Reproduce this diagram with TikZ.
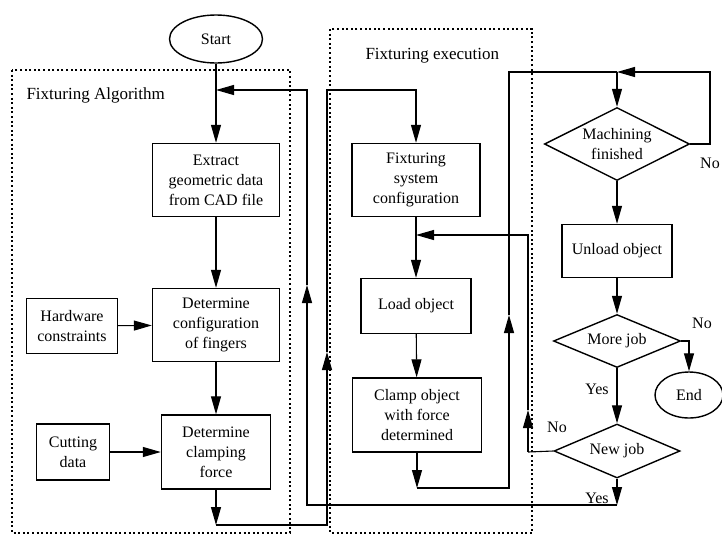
\documentclass[tikz,border=0pt]{standalone}
\usepackage{fontspec}
\setmainfont{Liberation Serif}
\usepackage{tikz}
\usetikzlibrary{arrows.meta,positioning,shapes.geometric,calc}

\begin{document}
\begin{tikzpicture}[x=1pt, y=-1pt,
    every node/.style={font=\fontsize{16}{20}\selectfont},
    box/.style={draw, line width=1.4pt, align=center, inner sep=2pt},
    decision/.style={draw, diamond, line width=1.4pt, align=center, aspect=2, inner sep=0pt},
    terminal/.style={draw, ellipse, line width=1.4pt, inner sep=0pt},
    group/.style={line width=2.2pt, dash pattern=on 2pt off 2.6pt},
    arr/.style={line width=1.1pt, -{Triangle[length=18pt, width=10pt]}},
    ln/.style={line width=1.1pt}]
    \useasboundingbox (0,0) rectangle (722,536);
    \draw[group] (12,70) rectangle (290,533);
    \draw[group] (330,29) rectangle (532,533);
    \node (algo) [anchor=west, font=\fontsize{17}{20}\selectfont] at (23,95) {Fixturing Algorithm};
    \node (exec) [anchor=west, font=\fontsize{17}{20}\selectfont] at (362,56) {Fixturing execution};
    \node (start) [terminal, minimum width=93, minimum height=48] at (216,39) {Start};
    \node (extract) [box, minimum width=127, minimum height=73] at (216,180) {Extract\\geometric data\\from CAD file};
    \node (config) [box, minimum width=127, minimum height=73] at (216,325) {Determine\\configuration\\of fingers};
    \node (hw) [box, minimum width=91, minimum height=55] at (72,326) {Hardware\\constraints};
    \node (clampf) [box, minimum width=109, minimum height=74] at (216,452) {Determine\\clamping\\force};
    \node (cut) [box, minimum width=73, minimum height=56] at (73,452) {Cutting\\data};
    \node (fixsys) [box, minimum width=128, minimum height=73] at (416,180) {Fixturing\\system\\configuration};
    \node (load) [box, minimum width=110, minimum height=55] at (416,306) {Load object};
    \node (clampo) [box, minimum width=129, minimum height=74] at (417,415) {Clamp object\\with force\\determined};
    \node (mach) [decision, minimum width=145, minimum height=73] at (617,144) {Machining\\finished};
    \node (unload) [box, minimum width=110, minimum height=53] at (617,251) {Unload object};
    \node (more) [decision, minimum width=127, minimum height=53] at (617,341) {More job};
    \node (newjob) [decision, minimum width=126, minimum height=54] at (617,451) {New job};
    \node (endn) [terminal, minimum width=68, minimum height=46] at (689,395) {End};
    \node (nomach) at (710,163) {No};
    \node (nomore) at (702,323) {No};
    \node (yesmore) at (597,389) {Yes};
    \node (nonew) at (557,427) {No};
    \node (yesnew) at (597,498) {Yes};
    \coordinate (join1) at (216,90);
    \coordinate (join2) at (416,235);
    \coordinate (join3) at (617,72);
    \coordinate (a1) at (216,525);
    \coordinate (a2) at (327,352);
    \coordinate (a3) at (327,90);
    \coordinate (b1) at (617,505);
    \coordinate (b2) at (307,285);
    \coordinate (c1) at (417,488);
    \coordinate (c2) at (509,315);
    \coordinate (c3) at (509,72);
    \coordinate (d1) at (710,144);
    \coordinate (e1) at (528,452);
    \coordinate (e2) at (528,410);
    \draw[arr] (start) -- (extract);
    \draw[arr] (extract) -- (config);
    \draw[arr] (hw) -- (config);
    \draw[arr] (config) -- (clampf);
    \draw[arr] (cut) -- (clampf);
    \draw[arr] (clampf) -- (a1);
    \draw[arr] (a1) -| (a2);
    \draw[arr] (a2) -- (a3) -| (fixsys.north);
    \draw[arr] (fixsys) -- (load);
    \draw[arr] (load) -- (clampo);
    \draw[arr] (clampo.south) -- (c1);
    \draw[arr] (c1) -| (c2);
    \draw[ln] (c2) -- (c3) -- (join3);
    \draw[arr] (join3) -- (mach);
    \draw[arr] (mach.east) -- (d1) |- (join3);
    \draw[arr] (mach) -- (unload);
    \draw[arr] (unload) -- (more);
    \draw[arr] (more) -- (newjob);
    \draw[arr] (more.east) -| (endn.north);
    \draw[arr] (newjob.south) -- (b1);
    \draw[arr] (b1) -| (b2);
    \draw[arr] (b2) |- (join1);
    \draw[ln] (newjob.west) -- (e1);
    \draw[arr] (e1) -- (e2);
    \draw[arr] (e2) |- (join2);
\end{tikzpicture}
\end{document}
